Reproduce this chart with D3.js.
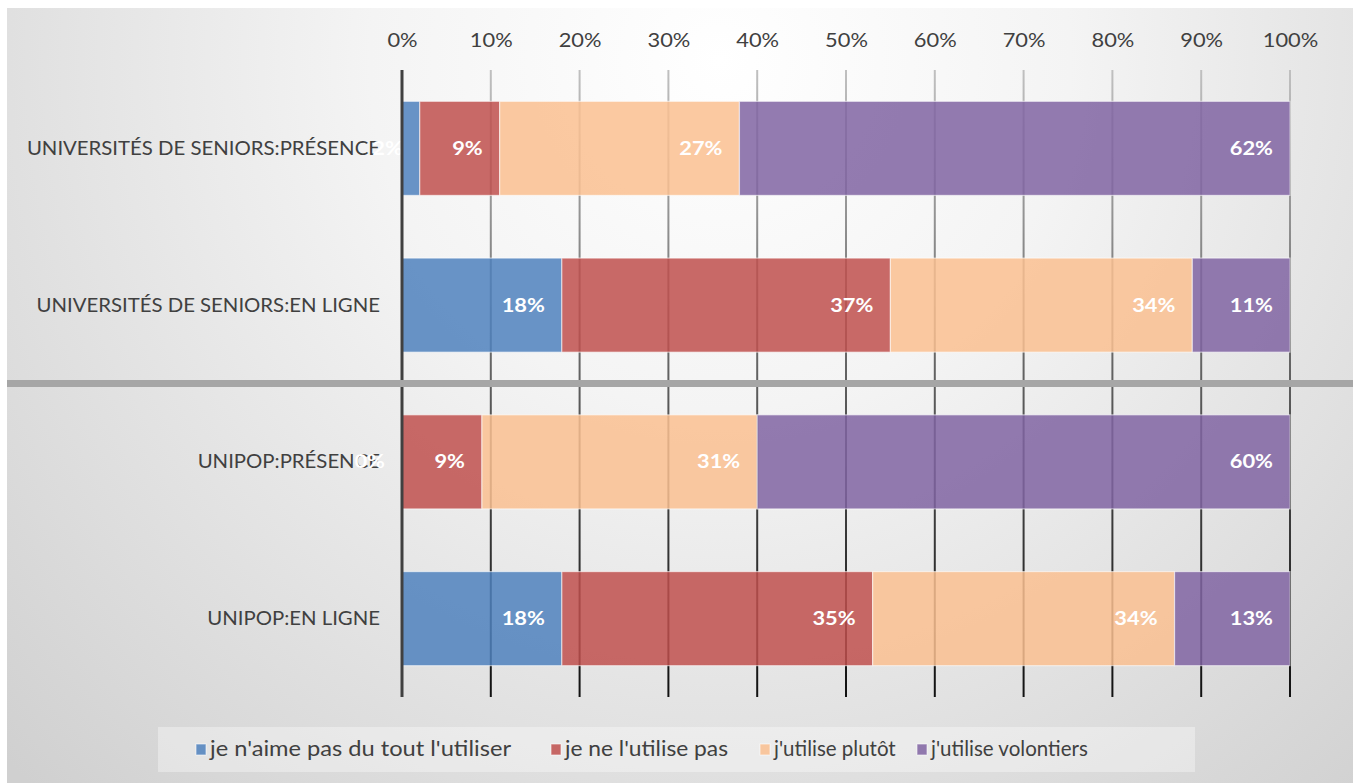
<!DOCTYPE html>
<html>
<head>
<meta charset="utf-8">
<script src="https://cdn.jsdelivr.net/npm/d3@7"></script>
<style>
  html, body { margin: 0; padding: 0; background: #ffffff; }
  svg { display: block; font-family: Lato, "Open Sans", sans-serif; }
</style>
</head>
<body>
<svg id="chart" width="1353" height="783"></svg>
<script>
// Survey groups, top to bottom
const categories = [
  "UNIVERSITÉS DE SENIORS:PRÉSENCE",
  "UNIVERSITÉS DE SENIORS:EN LIGNE",
  "UNIPOP:PRÉSENCE",
  "UNIPOP:EN LIGNE"
];
// Answer options (stack order, left to right)
const seriesNames = [
  "je n'aime pas du tout l'utiliser",
  "je ne l'utilise pas",
  "j'utilise plutôt",
  "j'utilise volontiers"
];
// Percentages per answer, one value per group
const pasDuTout   = [2, 18, 0, 18];
const nUtilisePas = [9, 37, 9, 35];
const plutot      = [27, 34, 31, 34];
const volontiers  = [62, 11, 60, 13];
const tickValues  = [0, 10, 20, 30, 40, 50, 60, 70, 80, 90, 100];
const colors      = ["#4F81BD", "#C0504D", "#FAC090", "#8064A2"];

const rows = categories.map((c, i) => ({
  cat: c,
  [seriesNames[0]]: pasDuTout[i],
  [seriesNames[1]]: nUtilisePas[i],
  [seriesNames[2]]: plutot[i],
  [seriesNames[3]]: volontiers[i]
}));

const svg = d3.select("#chart");
const W = 1353, H = 783;
const plot = { left: 402, right: 1290, top: 70, bottom: 697 };

// Background panel with soft radial shading
const defs = svg.append("defs");
const bg = defs.append("radialGradient").attr("id", "bgGrad")
  .attr("gradientUnits", "userSpaceOnUse")
  .attr("cx", 720).attr("cy", 60).attr("r", 1000);
bg.append("stop").attr("offset", "0%").attr("stop-color", "#ffffff");
bg.append("stop").attr("offset", "35%").attr("stop-color", "#f4f4f4");
bg.append("stop").attr("offset", "100%").attr("stop-color", "#d0d0d0");

const gridGrad = defs.append("linearGradient").attr("id", "gridGrad")
  .attr("gradientUnits", "userSpaceOnUse")
  .attr("x1", 0).attr("y1", plot.top).attr("x2", 0).attr("y2", plot.bottom);
gridGrad.append("stop").attr("offset", "0%").attr("stop-color", "#c0c0c0");
gridGrad.append("stop").attr("offset", "55%").attr("stop-color", "#555555");
gridGrad.append("stop").attr("offset", "100%").attr("stop-color", "#111111");

svg.append("rect").attr("x", 7).attr("y", 8).attr("width", W - 7).attr("height", H - 8)
  .attr("fill", "url(#bgGrad)");

const x = d3.scaleLinear().domain([0, 100]).range([plot.left, plot.right]);
const y = d3.scaleBand().domain(categories).range([plot.top, plot.bottom])
  .paddingInner(0.4).paddingOuter(0.2);

// Vertical gridlines
svg.append("g").selectAll("line").data(tickValues.slice(1)).join("line")
  .attr("x1", d => x(d)).attr("x2", d => x(d))
  .attr("y1", plot.top).attr("y2", plot.bottom)
  .attr("stroke", "url(#gridGrad)").attr("stroke-width", 2);

// Top axis labels
const axis = d3.axisTop(x).tickValues(tickValues).tickFormat(d => d + "%").tickSize(0).tickPadding(0);
const gAxis = svg.append("g").attr("transform", "translate(0,47)").call(axis);
gAxis.select(".domain").remove();
gAxis.selectAll("text").attr("font-size", 19).attr("fill", "#404040")
  .attr("font-family", "Lato, 'Open Sans', sans-serif")
  .attr("transform", "scale(1.15,1)");

// Stacked bars
const stack = d3.stack().keys(seriesNames);
const layers = stack(rows);
const gBars = svg.append("g");
layers.forEach((layer, li) => {
  gBars.append("g").selectAll("rect").data(layer).join("rect")
    .attr("x", d => x(d[0]))
    .attr("y", d => y(d.data.cat))
    .attr("width", d => x(d[1]) - x(d[0]))
    .attr("height", y.bandwidth())
    .attr("fill", colors[li]).attr("fill-opacity", 0.85)
    .attr("stroke", "rgba(255,255,255,0.55)").attr("stroke-width", 1.2);
});

// Category labels
svg.append("g").selectAll("g").data(categories).join("g")
  .attr("transform", d => `translate(380,${y(d) + y.bandwidth() / 2}) scale(1.1,1)`)
  .append("text")
  .attr("dy", "0.35em").attr("text-anchor", "end")
  .attr("font-size", 18.5).attr("fill", "#404040").text(d => d);

// Value labels inside segments
layers.forEach(layer => {
  svg.append("g").selectAll("g").data(layer).join("g")
    .attr("transform", d => `translate(${x(d[1]) - 17},${y(d.data.cat) + y.bandwidth() / 2}) scale(1.18,1)`)
    .append("text")
    .attr("dy", "0.35em").attr("text-anchor", "end")
    .attr("font-size", 18.5).attr("font-weight", "bold").attr("fill", "#ffffff")
    .text(d => (d[1] - d[0]) + "%");
});

// Left axis line
svg.append("line").attr("x1", x(0)).attr("x2", x(0))
  .attr("y1", plot.top).attr("y2", plot.bottom)
  .attr("stroke", "#404040").attr("stroke-width", 3);

// Separator between the two institutions
const sepY = (y(categories[1]) + y.bandwidth() + y(categories[2])) / 2;
svg.append("line").attr("x1", 7).attr("x2", W)
  .attr("y1", sepY).attr("y2", sepY)
  .attr("stroke", "#a6a6a6").attr("stroke-width", 7);

// Legend
const lg = svg.append("g");
lg.append("rect").attr("x", 158).attr("y", 727).attr("width", 1037).attr("height", 45)
  .attr("fill", "rgba(255,255,255,0.35)");
const legendX = [196, 551, 760, 917];
const legendTextW = [301, 163, null, null];
seriesNames.forEach((name, i) => {
  lg.append("rect").attr("x", legendX[i]).attr("y", 744).attr("width", 10).attr("height", 11)
    .attr("fill", colors[i]).attr("fill-opacity", 0.85)
    .attr("stroke", "rgba(255,255,255,0.6)").attr("stroke-width", 1);
  const t = lg.append("text").attr("x", legendX[i] + 14).attr("y", 749).attr("dy", "0.35em")
    .attr("font-size", 20.5).attr("fill", "#404040").text(name);
  if (legendTextW[i]) t.attr("textLength", legendTextW[i]).attr("lengthAdjust", "spacingAndGlyphs");
});
</script>
</body>
</html>
